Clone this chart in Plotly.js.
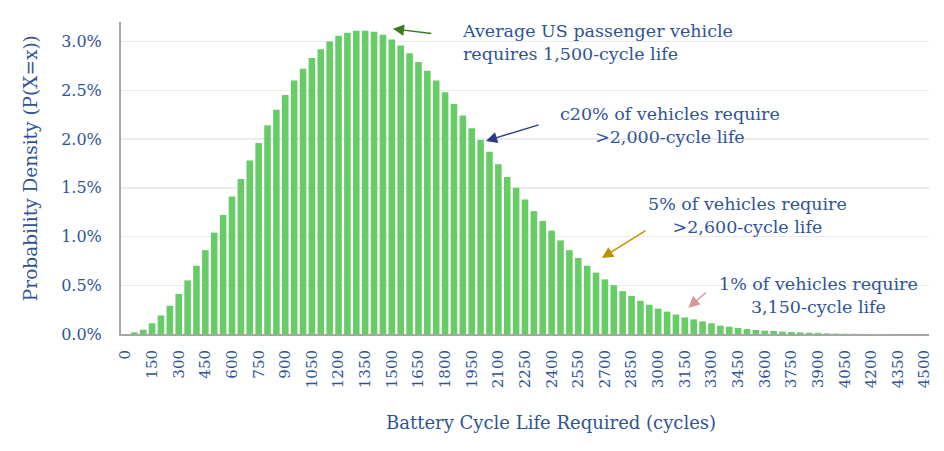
<!DOCTYPE html>
<html>
<head>
<meta charset="utf-8">
<script src="https://cdn.plot.ly/plotly-3.0.1.min.js"></script>
<style>
  html, body { margin: 0; padding: 0; background: #fff; }
  #chart { width: 944px; height: 451px; }
</style>
</head>
<body>
<div id="chart"></div>
<script>
// battery cycle life required (cycles), one bar per 50 cycles
var cycles = [
  0, 50, 100, 150, 200, 250, 300, 350, 400, 450,
  500, 550, 600, 650, 700, 750, 800, 850, 900, 950,
  1000, 1050, 1100, 1150, 1200, 1250, 1300, 1350, 1400, 1450,
  1500, 1550, 1600, 1650, 1700, 1750, 1800, 1850, 1900, 1950,
  2000, 2050, 2100, 2150, 2200, 2250, 2300, 2350, 2400, 2450,
  2500, 2550, 2600, 2650, 2700, 2750, 2800, 2850, 2900, 2950,
  3000, 3050, 3100, 3150, 3200, 3250, 3300, 3350, 3400, 3450,
  3500, 3550, 3600, 3650, 3700, 3750, 3800, 3850, 3900, 3950,
  4000, 4050, 4100, 4150, 4200, 4250, 4300, 4350, 4400, 4450,
  4500
];

// probability density, in percent
var density = [
  0, 0.017, 0.044, 0.11, 0.19, 0.29, 0.41, 0.55, 0.70, 0.86,
  1.04, 1.22, 1.41, 1.59, 1.78, 1.96, 2.14, 2.30, 2.45, 2.60,
  2.72, 2.83, 2.92, 3.00, 3.06, 3.09, 3.11, 3.11, 3.10, 3.07,
  3.02, 2.96, 2.88, 2.79, 2.70, 2.60, 2.48, 2.36, 2.24, 2.11,
  1.99, 1.87, 1.74, 1.61, 1.50, 1.38, 1.26, 1.16, 1.06, 0.96,
  0.86, 0.78, 0.70, 0.63, 0.56, 0.50, 0.44, 0.39, 0.34, 0.30,
  0.26, 0.23, 0.20, 0.17, 0.15, 0.13, 0.11, 0.085, 0.075, 0.062,
  0.051, 0.041, 0.034, 0.031, 0.024, 0.020, 0.017, 0.014, 0.012, 0.006,
  0.004, 0.003, 0.002, 0.0015, 0.001, 0.0008, 0.0006, 0.0004, 0.0003, 0.0002,
  0.0001
];

var xTicks = [0, 150, 300, 450, 600, 750, 900, 1050, 1200, 1350, 1500,
  1650, 1800, 1950, 2100, 2250, 2400, 2550, 2700, 2850, 3000, 3150, 3300,
  3450, 3600, 3750, 3900, 4050, 4200, 4350, 4500];

var yTicks = [0, 0.5, 1.0, 1.5, 2.0, 2.5, 3.0];

// callouts: text, text anchor, arrow tip and arrow tail (axis units)
var notes = [
  {text: 'Average US passenger vehicle<br>requires 1,500-cycle life', x: 1884, y: 2.99, align: 'left', anchor: 'left',
   tip: [1506, 3.13], tail: [1731, 3.08], color: '#3B7A1E'},
  {text: 'c20% of vehicles require<br>>2,000-cycle life', x: 3068, y: 2.14, align: 'center', anchor: 'center',
   tip: [2030, 1.98], tail: [2335, 2.15], color: '#2E3A87'},
  {text: '5% of vehicles require<br>>2,600-cycle life', x: 3502, y: 1.22, align: 'center', anchor: 'center',
   tip: [2683, 0.78], tail: [2937, 1.07], color: '#BF9000'},
  {text: '1% of vehicles require<br>3,150-cycle life', x: 3900, y: 0.40, align: 'center', anchor: 'center',
   tip: [3170, 0.27], tail: [3277, 0.44], color: '#D99594'}
];

var textBlue = '#2F5496';
var serif = 'DejaVu Serif, Liberation Serif, serif';

var trace = {
  x: cycles,
  y: density,
  type: 'bar',
  width: 37,
  marker: {color: '#66CC66'},
  hoverinfo: 'x+y'
};

var annotations = [];
notes.forEach(function (n) {
  annotations.push({
    x: n.x, y: n.y, xref: 'x', yref: 'y',
    text: n.text, showarrow: false,
    xanchor: n.anchor, yanchor: 'middle', align: n.align,
    font: {family: serif, size: 17.5, color: textBlue}
  });
  annotations.push({
    x: n.tip[0], y: n.tip[1], ax: n.tail[0], ay: n.tail[1],
    xref: 'x', yref: 'y', axref: 'x', ayref: 'y',
    text: '', showarrow: true,
    arrowhead: 2, arrowsize: 1.6, arrowwidth: 1.4, standoff: 0,
    arrowcolor: n.color
  });
});

// axis titles placed as annotations to line up with the reference
annotations.push({
  xref: 'paper', yref: 'paper', x: 0.532, y: -0.285,
  xanchor: 'center', yanchor: 'middle', showarrow: false,
  text: 'Battery Cycle Life Required (cycles)',
  font: {family: serif, size: 18, color: textBlue}
});
annotations.push({
  xref: 'paper', yref: 'paper', x: -0.112, y: 0.53,
  xanchor: 'center', yanchor: 'middle', showarrow: false, textangle: -90,
  text: 'Probability Density (P(X=x))',
  font: {family: serif, size: 18.5, color: textBlue}
});

var layout = {
  width: 944,
  height: 451,
  margin: {l: 121, r: 15, t: 22, b: 117},
  paper_bgcolor: '#ffffff',
  plot_bgcolor: '#ffffff',
  showlegend: false,
  font: {family: serif, color: textBlue},
  xaxis: {
    range: [-25, 4525],
    tickvals: xTicks,
    ticktext: xTicks.map(String),
    tickangle: -90,
    tickfont: {family: serif, size: 15, color: textBlue},
    ticks: '',
    ticklabelstandoff: 8,
    showgrid: false,
    zeroline: false,
    showline: true,
    linecolor: '#A6A6A6',
    linewidth: 2,
    fixedrange: true
  },
  yaxis: {
    range: [0, 3.2],
    tickvals: yTicks,
    ticktext: yTicks.map(function (v) { return v.toFixed(1) + '%'; }),
    tickfont: {family: serif, size: 16, color: textBlue},
    ticks: '',
    ticklabelstandoff: 14,
    showgrid: true,
    gridcolor: '#EBEBEB',
    gridwidth: 1.5,
    zeroline: false,
    showline: true,
    linecolor: '#A6A6A6',
    linewidth: 2,
    fixedrange: true
  },
  annotations: annotations
};

Plotly.newPlot('chart', [trace], layout, {displayModeBar: false, staticPlot: true});
</script>
</body>
</html>
